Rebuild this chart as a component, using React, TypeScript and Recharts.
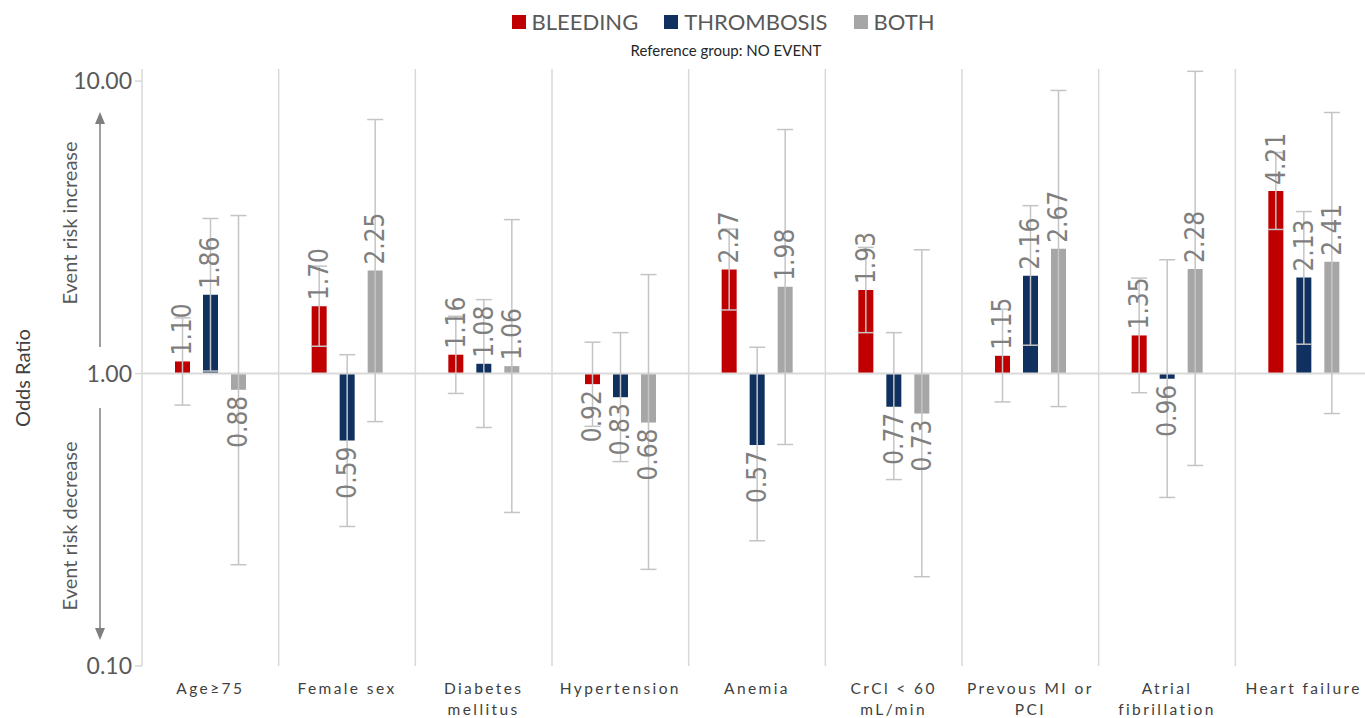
import React from 'react';
import { ComposedChart, Bar, XAxis, YAxis, ReferenceLine, ErrorBar, LabelList } from 'recharts';

// risk factors (x axis), "\n" marks the line break in the tick label
const categories = [
  'Age≥75',
  'Female sex',
  'Diabetes\nmellitus',
  'Hypertension',
  'Anemia',
  'CrCl < 60\nmL/min',
  'Prevous MI or\nPCI',
  'Atrial\nfibrillation',
  'Heart failure',
];

// odds ratios vs. reference group (NO EVENT)
const bleeding = [1.1, 1.7, 1.16, 0.92, 2.27, 1.93, 1.15, 1.35, 4.21];
const thrombosis = [1.86, 0.59, 1.08, 0.83, 0.57, 0.77, 2.16, 0.96, 2.13];
const both = [0.88, 2.25, 1.06, 0.68, 1.98, 0.73, 2.67, 2.28, 2.41];

// 95% CI bounds
const bleedingLow = [0.78, 1.24, 0.855, 0.66, 1.65, 1.38, 0.8, 0.86, 3.11];
const bleedingHigh = [1.55, 2.33, 1.57, 1.28, 3.12, 2.7, 1.66, 2.12, 5.7];
const thrombosisLow = [1.02, 0.3, 0.654, 0.5, 0.268, 0.434, 1.25, 0.377, 1.26];
const thrombosisHigh = [3.39, 1.16, 1.79, 1.38, 1.23, 1.38, 3.75, 2.45, 3.58];
const bothLow = [0.222, 0.685, 0.335, 0.214, 0.572, 0.202, 0.771, 0.485, 0.73];
const bothHigh = [3.47, 7.39, 3.36, 2.18, 6.83, 2.65, 9.29, 10.8, 7.81];

const yTicks = [0.1, 1, 10];

const series = [
  { key: 'bleeding', name: 'BLEEDING', color: '#C00000', values: bleeding, low: bleedingLow, high: bleedingHigh },
  { key: 'thrombosis', name: 'THROMBOSIS', color: '#10305F', values: thrombosis, low: thrombosisLow, high: thrombosisHigh },
  { key: 'both', name: 'BOTH', color: '#A6A6A6', values: both, low: bothLow, high: bothHigh },
];

// bars grow from OR = 1, so each value is a [1, v] range
const data = categories.map((name, i) => {
  const row: Record<string, any> = { name };
  series.forEach((s) => {
    const v = s.values[i];
    row[s.key] = [1, v];
    row[s.key + 'Err'] = [v - s.low[i], s.high[i] - v];
  });
  return row;
});

const FONT = 'Lato, "Open Sans", sans-serif';
const LABEL_FONT = '"Liberation Sans Narrow", "DejaVu Sans Condensed", "Roboto", sans-serif';

const ValueLabel = (props: any) => {
  const { viewBox, value } = props;
  if (!viewBox || value == null) return null;
  const { x, y, width, height } = viewBox;
  const cx = x + width / 2;
  const top = Math.min(y, y + height);
  const bottom = Math.max(y, y + height);
  const up = value >= 1;
  const ty = up ? top - 6 : bottom + 6;
  return (
    <text
      x={cx}
      y={ty}
      transform={`rotate(-90 ${cx} ${ty})`}
      textAnchor={up ? 'start' : 'end'}
      dominantBaseline="central"
      fill="#7F7F7F"
      fontSize={26}
      fontFamily={LABEL_FONT}
    >
      {Number(value).toFixed(2)}
    </text>
  );
};

const CategoryTick = ({ x, y, payload }: any) => {
  const lines = String(payload.value).split('\n');
  return (
    <text x={x} y={y} textAnchor="middle" fill="#404040" fontSize={15.5} fontFamily={FONT} letterSpacing={2.4}>
      {lines.map((l, i) => (
        <tspan key={i} x={x} dy={i === 0 ? 26 : 21}>
          {l}
        </tspan>
      ))}
    </text>
  );
};

const AxisNotes = (props: any) => {
  const top = props.viewBox?.y ?? 69;
  const arrow = '#7F7F7F';
  return (
    <g>
      <text
        x={22}
        y={top + 309}
        transform={`rotate(-90 22 ${top + 309})`}
        textAnchor="middle"
        dominantBaseline="central"
        fontSize={20}
        fill="#404040"
        fontFamily={FONT}
      >
        Odds Ratio
      </text>
      <text
        x={69}
        y={top + 154}
        transform={`rotate(-90 69 ${top + 154})`}
        textAnchor="middle"
        dominantBaseline="central"
        fontSize={20}
        fill="#595959"
        fontFamily={FONT}
      >
        Event risk increase
      </text>
      <text
        x={69}
        y={top + 457}
        transform={`rotate(-90 69 ${top + 457})`}
        textAnchor="middle"
        dominantBaseline="central"
        fontSize={20}
        fill="#595959"
        fontFamily={FONT}
      >
        Event risk decrease
      </text>
      <line x1={100} x2={100} y1={top + 278} y2={top + 52} stroke={arrow} strokeWidth={1.5} />
      <path d={`M100 ${top + 43} L95 ${top + 55} L105 ${top + 55} Z`} fill={arrow} />
      <line x1={100} x2={100} y1={top + 339} y2={top + 562} stroke={arrow} strokeWidth={1.5} />
      <path d={`M100 ${top + 571} L95 ${top + 559} L105 ${top + 559} Z`} fill={arrow} />
    </g>
  );
};

export default function App() {
  return (
    <div
      style={{
        position: 'absolute',
        left: 0,
        top: 0,
        width: 1365,
        height: 718,
        overflow: 'hidden',
        background: '#fff',
        fontFamily: FONT,
      }}
    >
      <div style={{ position: 'absolute', top: 8, left: 0, width: 1446, display: 'flex', justifyContent: 'center', gap: 26 }}>
        {series.map((s) => (
          <div key={s.key} style={{ display: 'flex', alignItems: 'center', gap: 6 }}>
            <span style={{ width: 14, height: 14, background: s.color, display: 'inline-block' }} />
            <span style={{ fontSize: 22, color: '#595959', lineHeight: '28px' }}>{s.name}</span>
          </div>
        ))}
      </div>
      <div style={{ position: 'absolute', top: 41, left: 0, width: 1452, textAlign: 'center', fontSize: 15, color: '#262626' }}>
        Reference group: NO EVENT
      </div>
      <ComposedChart
        width={1372}
        height={718}
        data={data}
        margin={{ top: 69, right: 0, bottom: 0, left: 0 }}
        barSize={15}
        barGap={13}
      >
        <XAxis dataKey="name" axisLine={false} tickLine={false} tickSize={0} tick={<CategoryTick />} interval={0} height={52} />
        <YAxis
          scale="log"
          type="number"
          domain={[0.1, 11]}
          allowDataOverflow
          ticks={yTicks}
          tickFormatter={(v: number) => v.toFixed(2)}
          width={142}
          axisLine={{ stroke: '#D9D9D9', strokeWidth: 1.5 }}
          tickLine={{ stroke: '#D9D9D9', strokeWidth: 1.5 }}
          tickSize={7}
          tickMargin={3}
          tick={{ fontSize: 23, fill: '#595959', fontFamily: FONT }}
          label={<AxisNotes />}
        />
        {categories.slice(1).map((c) => (
          <ReferenceLine key={c} x={c} position="start" stroke="#D9D9D9" strokeWidth={1.5} />
        ))}
        <ReferenceLine y={1} stroke="#D9D9D9" strokeWidth={2} />
        {series.map((s) => (
          <Bar key={s.key} dataKey={s.key} name={s.name} fill={s.color} isAnimationActive={false}>
            <ErrorBar dataKey={s.key + 'Err'} direction="y" width={8} stroke="#C4C4C4" strokeWidth={1.5} />
            <LabelList content={<ValueLabel />} />
          </Bar>
        ))}
      </ComposedChart>
    </div>
  );
}
